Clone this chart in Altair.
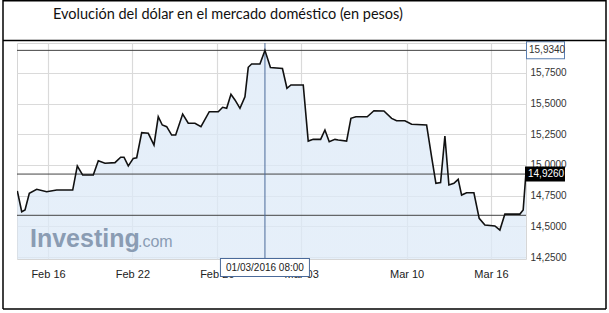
import altair as alt
import pandas as pd

# trading-day index (0 = Feb 16) and price in pesos
t_vals = [-1.455,-1.246,-1.090,-0.886,-0.536,-0.062,0.412,1.171,1.389,1.645,
          2.147,2.384,2.701,3.175,3.445,3.602,3.806,4.043,4.204,4.441,
          4.754,5.024,5.227,5.417,5.626,5.863,6.052,6.384,6.649,6.967,
          7.251,7.645,8.071,8.280,8.469,8.673,8.863,9.100,9.336,9.493,
          9.654,10.047,10.284,10.545,11.114,11.327,11.517,12.100,12.336,12.573,
          12.924,13.128,13.332,13.602,13.758,14.156,14.360,14.597,15.133,15.450,
          15.924,16.289,16.526,16.919,17.237,17.948,18.185,18.389,18.611,18.815,
          19.005,19.242,19.445,19.607,19.844,20.190,20.441,20.711,21.185,21.422,
          21.659,22.370,22.526,22.654]
prices = [14.788,14.619,14.633,14.769,14.802,14.782,14.796,14.796,14.992,14.918,
          14.918,15.035,15.014,15.019,15.063,15.063,14.992,15.054,15.059,15.263,
          15.258,15.163,15.393,15.326,15.312,15.244,15.244,15.415,15.340,15.340,
          15.312,15.434,15.434,15.470,15.462,15.576,15.530,15.462,15.556,15.796,
          15.823,15.823,15.934,15.794,15.786,15.625,15.652,15.652,15.195,15.209,
          15.209,15.285,15.190,15.209,15.204,15.195,15.380,15.393,15.393,15.442,
          15.440,15.380,15.361,15.361,15.332,15.326,15.067,14.851,14.856,15.236,
          14.837,14.851,14.883,14.755,14.774,14.774,14.565,14.511,14.503,14.470,
          14.600,14.600,14.633,14.926]

x_ticks = [0, 4, 8, 12, 17, 21]
x_labels = ["Feb 16", "Feb 22", "Feb 26", "Mar 03", "Mar 10", "Mar 16"]
y_ticks = [14.25, 14.5, 14.75, 15.0, 15.25, 15.5, 15.75]
levels = [15.934, 14.926, 14.59]
high_label = "15,9340"
last_label = "14,9260"
cursor_t = 10.284
cursor_label = "01/03/2016 08:00"
title = "Evolución del dólar en el mercado doméstico (en pesos)"

W, H = 509, 216
x_dom = [-1.47, 22.66]
y_dom = [14.234, 15.994]

df = pd.DataFrame({"t": t_vals, "v": prices})
lv = pd.DataFrame({"v": levels})

lab_expr = "[" + ",".join(f"'{s}'" for s in x_labels) + "][indexof([" + \
    ",".join(str(v) for v in x_ticks) + "], datum.value)]"

xs = alt.Scale(domain=x_dom, nice=False, zero=False)
ys = alt.Scale(domain=y_dom, nice=False, zero=False)

x_ax = alt.Axis(
    values=x_ticks, labelExpr=lab_expr, title=None, ticks=False, domain=False,
    labelOverlap=False, labelBound=False, labelFlush=False,
    labelPadding=9, labelFontSize=11, labelColor="#222", labelFont="Liberation Sans",
    gridColor="#dadada", gridWidth=1.2)
y_ax = alt.Axis(
    values=y_ticks, orient="right", title=None, ticks=False, domain=False,
    labelOverlap=False, labelBound=False, labelFlush=False,
    labelExpr="replace(format(datum.value, '.4f'), '.', ',')",
    labelPadding=4, labelFontSize=10, labelColor="#333", labelFont="Liberation Sans",
    gridColor="#dadada", gridWidth=1.2)

X = lambda: alt.X("t:Q", scale=xs, axis=x_ax)
Y = lambda: alt.Y("v:Q", scale=ys, axis=y_ax)

base = alt.Chart(df)

area = base.mark_area(
    clip=True,
    color=alt.Gradient(gradient="linear", x1=0, x2=0, y1=0, y2=1,
                       stops=[alt.GradientStop(color="#dce9f7", offset=0),
                              alt.GradientStop(color="#eaf3fc", offset=1)]),
    opacity=0.75,
).encode(x=X(), y=Y(), y2=alt.value(H))

level_rules = alt.Chart(lv).mark_rule(color="#444", strokeWidth=1).encode(
    y=Y(), x=alt.value(0), x2=alt.value(W))

cur_df = pd.DataFrame({"t": [cursor_t], "lab": [cursor_label]})
cursor = alt.Chart(cur_df).mark_rule(color="#4a6a9a", strokeWidth=1).encode(
    x=X(), y=alt.value(0), y2=alt.value(H))

line = base.mark_line(color="#111", strokeWidth=1.6, clip=True).encode(x=X(), y=Y())

# watermark
wm1 = alt.Chart(cur_df).mark_text(text="Investing", font="Liberation Sans", fontWeight="bold",
                                  fontSize=25, color="#8a9cb3", align="left",
                                  baseline="alphabetic").encode(x=alt.value(13), y=alt.value(204))
wm2 = alt.Chart(cur_df).mark_text(text=".com", font="Liberation Sans", fontSize=16,
                                  color="#8a9cb3", align="left",
                                  baseline="alphabetic").encode(x=alt.value(121), y=alt.value(204))

# cursor date box
box_b = alt.Chart(cur_df).mark_rule(color="#4a6a9a", strokeWidth=90).encode(
    x=X(), y=alt.value(215), y2=alt.value(234))
box_w = alt.Chart(cur_df).mark_rule(color="white", strokeWidth=88).encode(
    x=X(), y=alt.value(216), y2=alt.value(233))
box_t = alt.Chart(cur_df).mark_text(font="Liberation Sans", fontSize=10, color="#222",
                                    baseline="middle").encode(
    x=X(), y=alt.value(225), text="lab:N")

# high price box
hi_df = pd.DataFrame({"v": [levels[0]], "lab": [high_label]})
hi_b = alt.Chart(hi_df).mark_rule(color="#5b7fb0", strokeWidth=18).encode(
    y=Y(), x=alt.value(509), x2=alt.value(548))
hi_w = alt.Chart(hi_df).mark_rule(color="white", strokeWidth=16).encode(
    y=Y(), x=alt.value(510), x2=alt.value(547))
hi_t = alt.Chart(hi_df).mark_text(font="Liberation Sans", fontSize=10, color="#333",
                                  align="left", baseline="middle").encode(
    y=Y(), x=alt.value(512), text="lab:N")

# last price box
lo_df = pd.DataFrame({"v": [levels[1]], "lab": [last_label]})
lo_b = alt.Chart(lo_df).mark_rule(color="black", strokeWidth=15).encode(
    y=Y(), x=alt.value(508), x2=alt.value(548))
lo_t = alt.Chart(lo_df).mark_text(font="Liberation Sans", fontSize=10, color="white",
                                  align="left", baseline="middle").encode(
    y=Y(), x=alt.value(511), text="lab:N")

# frame and title
fr = dict(color="black", strokeWidth=1.5)
top_r = alt.Chart(cur_df).mark_rule(**fr).encode(x=alt.value(-14), x2=alt.value(589), y=alt.value(-42.3))
sep_r = alt.Chart(cur_df).mark_rule(**fr).encode(x=alt.value(-14), x2=alt.value(589), y=alt.value(-2.5))
bot_r = alt.Chart(cur_df).mark_rule(**fr).encode(x=alt.value(-14), x2=alt.value(589), y=alt.value(266))
lft_r = alt.Chart(cur_df).mark_rule(**fr).encode(x=alt.value(-14), y=alt.value(-43), y2=alt.value(266))
rgt_r = alt.Chart(cur_df).mark_rule(**fr).encode(x=alt.value(589), y=alt.value(-43), y2=alt.value(266))
ttl = alt.Chart(cur_df).mark_text(text=title, font="Lato", fontSize=14.5, color="#111",
                                  align="left", baseline="alphabetic").encode(
    x=alt.value(36), y=alt.value(-24))

chart = alt.layer(
    area, level_rules, cursor, line, wm1, wm2, box_b, box_w, box_t,
    hi_b, hi_w, hi_t, lo_b, lo_t, top_r, sep_r, bot_r, lft_r, rgt_r, ttl
).properties(
    width=W, height=H,
    autosize=alt.AutoSizeParams(type="none"),
    padding={"left": 17, "top": 43, "right": 83, "bottom": 54},
    background="white",
).configure_view(stroke="#d6d6d6", strokeWidth=1
).configure_axis(labelOverlap=False)

chart.save("out.html", embed_options={"renderer": "svg", "actions": False})
